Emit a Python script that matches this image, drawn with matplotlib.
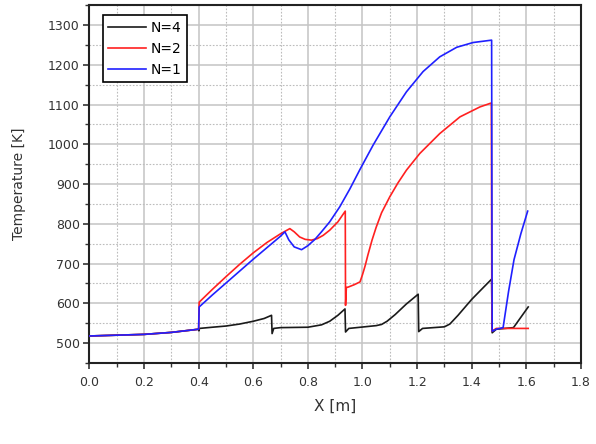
import matplotlib
matplotlib.use("Agg")
import matplotlib.pyplot as plt
from matplotlib.ticker import MultipleLocator, FormatStrFormatter

plt.rcParams['font.family'] = ['DejaVu Sans']

# N=4 (black)
x4 = [0.0, 0.1, 0.2, 0.3, 0.4, 0.401, 0.403, 0.45, 0.5, 0.55, 0.6, 0.64, 0.667,
      0.669, 0.675, 0.7, 0.8, 0.85, 0.88, 0.91, 0.936,
      0.938, 0.95, 1.05, 1.07, 1.09, 1.12, 1.16, 1.204,
      1.206, 1.22, 1.3, 1.32, 1.35, 1.4, 1.44, 1.473,
      1.475, 1.49, 1.553, 1.607]
t4 = [518, 520, 522, 527, 535, 531, 537, 540, 543, 548, 555, 562, 570,
      524, 537, 539, 540, 546, 555, 570, 586,
      528, 537, 544, 547, 555, 572, 598, 623,
      529, 537, 541, 548, 570, 610, 638, 661,
      526, 535, 539, 591]

# N=2 (red)
x2 = [0.0, 0.1, 0.2, 0.3, 0.4, 0.402, 0.45, 0.5, 0.55, 0.6, 0.65, 0.7, 0.734,
      0.75, 0.77, 0.79, 0.813, 0.835, 0.856, 0.88, 0.91, 0.937,
      0.938, 0.941, 0.948, 0.97, 0.991, 1.0, 1.01, 1.02, 1.035, 1.05, 1.07, 1.1, 1.13, 1.161,
      1.21, 1.283, 1.357, 1.43, 1.472, 1.474, 1.49, 1.607]
t2 = [518, 520, 522, 527, 535, 603, 635, 667, 698, 727, 753, 775, 788,
      780, 767, 761, 759, 763, 771, 784, 805, 832,
      595, 640, 641, 647, 654, 672, 695, 722, 759, 791, 828, 868, 903, 935,
      977, 1027, 1069, 1094, 1104, 530, 537, 537]

# N=1 (blue)
x1 = [0.0, 0.1, 0.2, 0.3, 0.4, 0.402, 0.45, 0.5, 0.55, 0.6, 0.65, 0.7, 0.716,
      0.73, 0.75, 0.777, 0.8, 0.826, 0.85, 0.88, 0.917, 0.954, 0.991, 1.039, 1.1,
      1.161, 1.222, 1.283, 1.345, 1.405, 1.473,
      1.475, 1.49, 1.515, 1.535, 1.555, 1.58, 1.605]
t1 = [518, 520, 522, 527, 535, 591, 621, 651, 681, 711, 740, 769, 780,
      760, 742, 735, 745, 761, 780, 805, 843, 888, 937, 998, 1069,
      1132, 1183, 1220, 1244, 1256, 1262,
      530, 535, 539, 630, 710, 775, 832]

fig = plt.figure(figsize=(5.96, 4.44), dpi=100)
ax = fig.add_axes([0.150, 0.1824, 0.8247, 0.806])

ax.plot(x4, t4, color='#1a1a1a', lw=1.2, label='N=4', zorder=3)
ax.plot(x2, t2, color='#ff2020', lw=1.2, label='N=2', zorder=3)
ax.plot(x1, t1, color='#2020ff', lw=1.2, label='N=1', zorder=4)

ax.set_xlim(0, 1.8)
ax.set_ylim(450, 1350)
ax.xaxis.set_major_locator(MultipleLocator(0.2))
ax.xaxis.set_minor_locator(MultipleLocator(0.1))
ax.set_yticks(range(500, 1301, 100))
ax.yaxis.set_minor_locator(MultipleLocator(50))
ax.xaxis.set_major_formatter(FormatStrFormatter('%.1f'))

ax.grid(which='major', color='#c4c4c4', lw=1.1, ls='-', zorder=0)
ax.grid(which='minor', color='#bcbcbc', lw=0.8, ls=(0, (1.5, 1.5)), zorder=0)
ax.set_axisbelow(True)

for s in ax.spines.values():
    s.set_linewidth(1.5)
    s.set_color('#222222')

ax.tick_params(axis='x', which='major', pad=5)
ax.tick_params(axis='y', which='major', pad=2.5)
ax.tick_params(which='major', direction='out', length=4.5, width=1.2, color='#333333',
               labelsize=9, labelcolor='#333333')
ax.tick_params(which='minor', direction='out', length=3, width=1.0, color='#333333')

ax.set_xlabel('X [m]', fontsize=11, color='#333333', labelpad=7)
ax.set_ylabel('Temperature [K]', fontsize=10, color='#333333', labelpad=16)

leg = ax.legend(loc='upper left', bbox_to_anchor=(0.0275, 0.972), fontsize=10,
                frameon=True, fancybox=False, edgecolor='black', handlelength=2.7,
                borderpad=0.4, labelspacing=0.5, handletextpad=0.3, borderaxespad=0.0)
leg.get_frame().set_linewidth(1.2)
leg.get_frame().set_alpha(1.0)

fig.savefig('out.png', dpi=100)
